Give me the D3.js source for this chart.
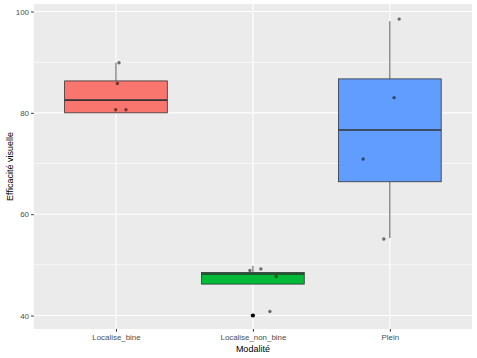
<!DOCTYPE html>
<html><head><meta charset="utf-8">
<script src="https://cdn.jsdelivr.net/npm/d3@7"></script>
<style>body{margin:0;background:#fff}svg{display:block}</style>
</head><body>
<script>
// ---- data ----
const categories = ["Localise_bine", "Localise_non_bine", "Plein"];
const fills = ["#F8766D", "#00BA38", "#619CFF"];
const whiskerLow  = [80.0, 46.2, 55.3];
const q1          = [80.0, 46.2, 66.4];
const median      = [82.5, 48.2, 76.6];
const q3          = [86.3, 48.5, 86.7];
const whiskerHigh = [89.9, 49.8, 98.1];
const outliers = [{cat: "Localise_non_bine", value: 40.0}];
// jittered raw observations (jitter = horizontal offset in category units)
const pointCat    = ["Localise_bine","Localise_bine","Localise_bine","Localise_bine",
                     "Localise_non_bine","Localise_non_bine","Localise_non_bine","Localise_non_bine","Localise_non_bine",
                     "Plein","Plein","Plein","Plein"];
const pointValue  = [89.9, 85.8, 80.6, 80.6,
                     49.2, 48.9, 47.7, 40.8, 40.0,
                     98.5, 83.0, 70.9, 55.1];
const pointJitter = [0.022, 0.010, -0.002, 0.073,
                     0.058, -0.022, 0.170, 0.124, 0.0,
                     0.068, 0.031, -0.195, -0.044];
const yTicks = [40, 60, 80, 100];
const yMinor = [50, 70, 90];

// ---- layout ----
const W = 477, H = 358;
const P = {left: 33.8, right: 472, top: 4, bottom: 329};
const svg = d3.select("body").append("svg").attr("width", W).attr("height", H);
const font = "Liberation Sans, Arial, sans-serif";

const x = d3.scalePoint().domain(categories).range([P.left, P.right]).padding(0.6);
const step = x.step();
const y = d3.scaleLinear().domain([37.34, 101.48]).range([P.bottom, P.top]);

// panel
svg.append("rect").attr("x", P.left).attr("y", P.top)
  .attr("width", P.right - P.left).attr("height", P.bottom - P.top).attr("fill", "#EBEBEB");
// grid
const g = svg.append("g");
g.selectAll(".minor").data(yMinor).join("line")
  .attr("x1", P.left).attr("x2", P.right)
  .attr("y1", d => y(d)).attr("y2", d => y(d))
  .attr("stroke", "#fff").attr("stroke-width", 0.6);
g.selectAll(".major").data(yTicks).join("line")
  .attr("x1", P.left).attr("x2", P.right)
  .attr("y1", d => y(d)).attr("y2", d => y(d))
  .attr("stroke", "#fff").attr("stroke-width", 1.1);
g.selectAll(".vmajor").data(categories).join("line")
  .attr("x1", d => x(d)).attr("x2", d => x(d))
  .attr("y1", P.top).attr("y2", P.bottom)
  .attr("stroke", "#fff").attr("stroke-width", 1.1);

// boxes
const bw = 0.75 * step;
const boxes = svg.append("g");
categories.forEach((c, i) => {
  const cx = x(c);
  boxes.append("line").attr("x1", cx).attr("x2", cx)
    .attr("y1", y(q3[i])).attr("y2", y(whiskerHigh[i]))
    .attr("stroke", "#333").attr("stroke-width", 0.8);
  boxes.append("line").attr("x1", cx).attr("x2", cx)
    .attr("y1", y(q1[i])).attr("y2", y(whiskerLow[i]))
    .attr("stroke", "#333").attr("stroke-width", 0.8);
  boxes.append("rect").attr("x", cx - bw / 2).attr("width", bw)
    .attr("y", y(q3[i])).attr("height", y(q1[i]) - y(q3[i]))
    .attr("fill", fills[i]).attr("stroke", "#333").attr("stroke-width", 0.8);
  boxes.append("line").attr("x1", cx - bw / 2).attr("x2", cx + bw / 2)
    .attr("y1", y(median[i])).attr("y2", y(median[i]))
    .attr("stroke", "#333").attr("stroke-width", 1.6);
});
// outliers
svg.append("g").selectAll("circle").data(outliers).join("circle")
  .attr("cx", d => x(d.cat)).attr("cy", d => y(d.value)).attr("r", 2.1).attr("fill", "#000");
// jittered points
svg.append("g").selectAll("circle").data(pointValue).join("circle")
  .attr("cx", (d, i) => x(pointCat[i]) + pointJitter[i] * step)
  .attr("cy", d => y(d)).attr("r", 1.7)
  .attr("fill", "#000").attr("fill-opacity", 0.55);

// axes
const yAxis = svg.append("g").attr("transform", `translate(${P.left},0)`)
  .call(d3.axisLeft(y).tickValues(yTicks).tickSize(2.7).tickPadding(2.2));
const xAxis = svg.append("g").attr("transform", `translate(0,${P.bottom})`)
  .call(d3.axisBottom(x).tickSize(2.7).tickPadding(2.2));
[yAxis, xAxis].forEach(a => {
  a.select(".domain").remove();
  a.selectAll(".tick line").attr("stroke", "#333").attr("stroke-width", 1);
  a.selectAll(".tick text").attr("fill", "#4D4D4D").attr("font-size", 7.9).attr("font-family", font);
});

// titles
svg.append("text").attr("x", (P.left + P.right) / 2).attr("y", 351.5)
  .attr("text-anchor", "middle").attr("font-family", font).attr("font-size", 9).attr("fill", "#000")
  .text("Modalité");
svg.append("text").attr("transform", `translate(12.5,${(P.top + P.bottom) / 2}) rotate(-90)`)
  .attr("text-anchor", "middle").attr("font-family", font).attr("font-size", 9).attr("fill", "#000")
  .text("Efficacité visuelle");
</script>
</body></html>
